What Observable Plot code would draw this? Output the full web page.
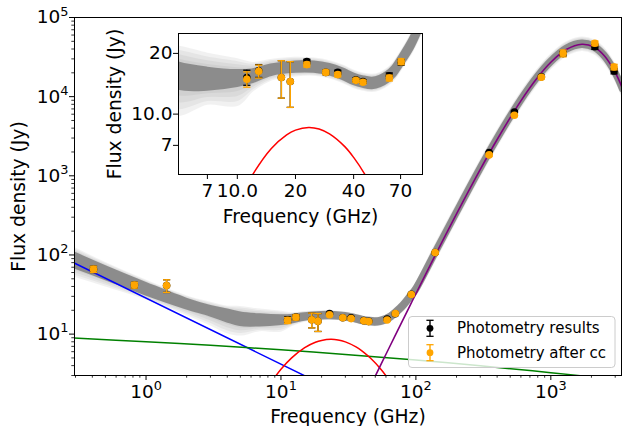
<!DOCTYPE html>
<html><head><meta charset="utf-8">
<script src="https://cdn.jsdelivr.net/npm/d3@7"></script>
<script src="https://cdn.jsdelivr.net/npm/@observablehq/plot@0.6"></script>
<style>
html,body{margin:0;padding:0;background:white;}
#wrap{position:relative;width:622px;height:426px;font-family:"DejaVu Sans";}
#wrap svg{display:block;}
</style></head><body><div id="wrap"></div>
<script>
// ---------- data ----------
// photometry
const freqs   = [0.408, 0.82, 1.42, 11.2, 12.9, 16.9, 18.8, 22.9, 28.7, 33.1, 41.1, 44.7, 61.2, 70.5, 92.5, 139, 349, 537, 851, 1233, 2120, 2944];
const fluxRaw = [66, 41.6, 41.1, 15.2, 16.4, 15.2, 14.5, 18.2, 16.1, 16.1, 14.8, 14.5, 15.5, 18.1, 31.8, 107, 1963, 6410, 17800, 35000, 42800, 21100];
const errRaw  = [6, 3.5, 7.5, 1.3, 1.2, 3.2, 3.7, 0.5, 0.4, 0.4, 0.3, 0.3, 0.5, 0.6, 1.0, 3, 60, 200, 700, 2500, 3200, 1700];
const fluxCC  = [66, 41.6, 41.1, 14.9, 16.3, 15.2, 14.5, 17.6, 16.1, 15.7, 14.7, 14.4, 15.1, 18.2, 31.6, 107, 1836, 5820, 17580, 35300, 47200, 23700];
const errCC   = [6, 3.5, 7.5, 1.3, 1.2, 3.2, 3.7, 0.5, 0.4, 0.4, 0.3, 0.3, 0.5, 0.6, 1.0, 3, 60, 200, 700, 3500, 3200, 1900];

// model components
const syncFreq = [0.29, 20];
const syncFlux = [80.0, 2.34];
const ffFreq = [0.29, 1, 3, 10, 30, 100, 300, 1000, 3400];
const ffFlux = [8.92, 8.01, 7.21, 6.33, 5.54, 4.71, 3.98, 3.26, 2.63];
const ameFreq = [8.5, 10, 12, 15, 18, 20, 23.4, 26.5, 30, 36, 40, 46, 55, 65];
const ameFlux = [2.49, 3.60, 5.01, 6.76, 7.90, 8.33, 8.59, 8.44, 7.98, 6.90, 6.10, 4.98, 3.60, 2.47];
const dustFreq = [45, 50, 60, 70, 94, 139, 200, 300, 400, 600, 800, 1000, 1300, 1700, 2100, 2500, 3000, 3400];
const dustFlux = [2.05, 2.95, 5.57, 9.49, 26.2, 98.8, 330, 1205, 2877, 8850, 17580, 27200, 39350, 45900, 42100, 32700, 20300, 12650];

// bundle of model samples (centre and spread in dex)
const bandFreq = [0.29, 0.5, 1, 2, 3, 4, 5, 7, 10, 12, 15, 20, 25, 30, 35, 40, 45, 50, 55, 60, 65, 70, 80, 90, 100, 139, 200, 300, 400, 600, 800, 1000, 1300, 1700, 2100, 2500, 3000, 3400];
const bandMid  = [86, 59, 37, 24, 19.5, 17, 15.4, 14.9, 15.0, 15.4, 16.5, 17.1, 17.1, 16.6, 15.8, 14.9, 14.4, 14.2, 14.5, 15.2, 16.3, 18.1, 22.3, 28.5, 36, 104, 335, 1210, 2880, 8850, 17580, 27200, 39350, 45900, 42100, 32700, 20300, 12650];
const bandInner = [0.067, 0.055, 0.047, 0.035, 0.035, 0.05, 0.055, 0.045, 0.03, 0.022, 0.016, 0.016, 0.016, 0.016, 0.016, 0.016, 0.016, 0.016, 0.016, 0.016, 0.016, 0.016, 0.018, 0.018, 0.018, 0.015, 0.015, 0.015, 0.015, 0.015, 0.015, 0.015, 0.015, 0.015, 0.015, 0.015, 0.015, 0.015];
const bandLow  = [0.19, 0.15, 0.11, 0.12, 0.16, 0.20, 0.19, 0.12, 0.13, 0.07, 0.045, 0.04, 0.036, 0.036, 0.036, 0.036, 0.036, 0.036, 0.036, 0.036, 0.036, 0.036, 0.04, 0.045, 0.05, 0.07, 0.07, 0.07, 0.07, 0.07, 0.07, 0.07, 0.07, 0.07, 0.07, 0.07, 0.07, 0.07];
const bandHigh = [0.14, 0.11, 0.09, 0.08, 0.09, 0.10, 0.14, 0.12, 0.09, 0.06, 0.045, 0.04, 0.036, 0.036, 0.036, 0.036, 0.036, 0.036, 0.036, 0.036, 0.036, 0.036, 0.04, 0.045, 0.05, 0.07, 0.07, 0.07, 0.07, 0.07, 0.07, 0.07, 0.07, 0.07, 0.07, 0.07, 0.07, 0.07];

// axis ticks
const mainXTicks = [1, 10, 100, 1000];
const mainYTicks = [10, 100, 1000, 10000, 100000];
const mainXMinor = [0.3,0.4,0.5,0.6,0.7,0.8,0.9,2,3,4,5,6,7,8,9,20,30,40,50,60,70,80,90,200,300,400,500,600,700,800,900,2000,3000];
const mainYMinor = [3,4,5,6,7,8,9,20,30,40,50,60,70,80,90,200,300,400,500,600,700,800,900,2000,3000,4000,5000,6000,7000,8000,9000,20000,30000,40000,50000,60000,70000,80000,90000];
const insetXTicks = [7, 10, 20, 40, 70];
const insetXLabels = ["7", "10.0", "20", "40", "70"];
const insetYTicks = [7, 10, 20];
const insetYLabels = ["7", "10.0", "20"];
const xLabel = "Frequency (GHz)";
const yLabel = "Flux density (Jy)";
const legendLabels = ["Photometry results", "Photometry after cc"];

// ---------- tables ----------
const raw = freqs.map((f, i) => ({f, s: fluxRaw[i], lo: fluxRaw[i] - errRaw[i], hi: fluxRaw[i] + errRaw[i]}));
const cc  = freqs.map((f, i) => ({f, s: fluxCC[i], lo: fluxCC[i] - errCC[i], hi: fluxCC[i] + errCC[i]}));
const sync = syncFreq.map((f, i) => ({f, s: syncFlux[i]}));
const ff = ffFreq.map((f, i) => ({f, s: ffFlux[i]}));
const ame = ameFreq.map((f, i) => ({f, s: ameFlux[i]}));
const dust = dustFreq.map((f, i) => ({f, s: dustFlux[i]}));
const LAYERS = [1, 0.75, 0.5, 0.25];
const band = bandFreq.map((f, i) => {
  const m = bandMid[i], a = bandInner[i], l = bandLow[i], h = bandHigh[i];
  const row = {f, lo0: m / 10 ** a, hi0: m * 10 ** a};
  LAYERS.forEach((k, j) => {
    row["lo" + (j + 1)] = m / 10 ** (a + (l - a) * k);
    row["hi" + (j + 1)] = m * 10 ** (a + (h - a) * k);
  });
  return row;
});

const cap = {draw(ctx) { ctx.moveTo(-3.6, 0); ctx.lineTo(3.6, 0); }};
const FONT = "DejaVu Sans";

function bandMarks(sw) {
  const outer = LAYERS.map((k, j) =>
    Plot.areaY(band, {x: "f", y1: "lo" + (j + 1), y2: "hi" + (j + 1), fill: "#808080", stroke: "#808080", strokeWidth: sw * 0.6, strokeLinejoin: "round", opacity: 0.1, curve: "catmull-rom", clip: true}));
  return [
    ...outer,
    Plot.areaY(band, {x: "f", y1: "lo0", y2: "hi0", fill: "#7a7a7a", stroke: "#7a7a7a", strokeWidth: sw, strokeLinejoin: "round", opacity: 0.78, curve: "catmull-rom", clip: true})
  ];
}
function dataMarks() {
  return [
    Plot.ruleX(raw, {x: "f", y1: "lo", y2: "hi", stroke: "black", strokeWidth: 1.4, clip: true}),
    Plot.dot(raw, {x: "f", y: "lo", symbol: cap, fill: "none", stroke: "black", strokeWidth: 1.3, clip: true}),
    Plot.dot(raw, {x: "f", y: "hi", symbol: cap, fill: "none", stroke: "black", strokeWidth: 1.3, clip: true}),
    Plot.dot(raw, {x: "f", y: "s", r: 3.8, fill: "black", stroke: "none", clip: true}),
    Plot.ruleX(cc, {x: "f", y1: "lo", y2: "hi", stroke: "orange", strokeWidth: 1.4, clip: true}),
    Plot.dot(cc, {x: "f", y: "lo", symbol: cap, fill: "none", stroke: "orange", strokeWidth: 1.3, clip: true}),
    Plot.dot(cc, {x: "f", y: "hi", symbol: cap, fill: "none", stroke: "orange", strokeWidth: 1.3, clip: true}),
    Plot.dot(cc, {x: "f", y: "s", r: 3.8, fill: "orange", stroke: "none", clip: true})
  ];
}
function supify(svg, fs) {
  svg.querySelectorAll("text").forEach(t => {
    const m = /^10\^(\d+)$/.exec(t.textContent);
    if (!m) return;
    t.textContent = "10";
    const s = document.createElementNS("http://www.w3.org/2000/svg", "tspan");
    s.setAttribute("dy", (-0.42 * fs).toFixed(1));
    s.setAttribute("font-size", (0.7 * fs).toFixed(1));
    s.textContent = m[1];
    t.appendChild(s);
  });
}

const TF = 18.5;
const main = Plot.plot({
  width: 622, height: 426,
  marginLeft: 74, marginRight: 1, marginTop: 17, marginBottom: 51,
  style: {fontFamily: FONT, background: "white", color: "black", overflow: "visible"},
  x: {type: "log", domain: [0.295, 3340]},
  y: {type: "log", domain: [3, 1e5]},
  marks: [
    ...bandMarks(6),
    Plot.line(sync, {x: "f", y: "s", stroke: "blue", strokeWidth: 1.5, clip: true}),
    Plot.line(ff, {x: "f", y: "s", stroke: "green", strokeWidth: 1.5, curve: "catmull-rom", clip: true}),
    Plot.line(ame, {x: "f", y: "s", stroke: "red", strokeWidth: 1.5, curve: "catmull-rom", clip: true}),
    Plot.line(dust, {x: "f", y: "s", stroke: "purple", strokeWidth: 1.6, curve: "catmull-rom", clip: true}),
    ...dataMarks(),
    Plot.axisX({ticks: mainXTicks, tickFormat: d => "10^" + Math.round(Math.log10(d)), tickSize: 5, tickPadding: 4, fontSize: TF, label: null}),
    Plot.axisX({ticks: mainXMinor, tickSize: 2.7, strokeWidth: 0.8, fill: "none", label: null}),
    Plot.axisY({ticks: mainYTicks, tickFormat: d => "10^" + Math.round(Math.log10(d)), tickSize: 5, tickPadding: 1, fontSize: TF, label: null}),
    Plot.axisY({ticks: mainYMinor, tickSize: 2.7, strokeWidth: 0.8, fill: "none", label: null}),
    Plot.text([xLabel], {frameAnchor: "bottom", dy: 42, textAnchor: "middle", lineAnchor: "middle", fontSize: 18.7, fill: "black"}),
    Plot.text([yLabel], {frameAnchor: "left", dx: -55, rotate: -90, textAnchor: "middle", lineAnchor: "middle", fontSize: 18.7, fill: "black"}),
    Plot.frame({stroke: "black", strokeWidth: 1})
  ]
});
supify(main, TF);

const inset = Plot.plot({
  width: 622, height: 232,
  marginLeft: 178, marginRight: 200, marginTop: 33, marginBottom: 58,
  style: {fontFamily: FONT, background: "transparent", color: "black", overflow: "visible", position: "absolute", left: "0px", top: "0px"},
  x: {type: "log", domain: [4.96, 90.9]},
  y: {type: "log", domain: [5.02, 25.1]},
  marks: [
    Plot.frame({fill: "white", stroke: "none"}),
    ...bandMarks(6),
    Plot.line(ame, {x: "f", y: "s", stroke: "red", strokeWidth: 1.5, curve: "catmull-rom", clip: true}),
    ...dataMarks(),
    Plot.axisX({ticks: insetXTicks, tickFormat: d => insetXLabels[insetXTicks.indexOf(d)], tickSize: 5, tickPadding: 4, fontSize: TF, label: null}),
    Plot.axisY({ticks: insetYTicks, tickFormat: d => insetYLabels[insetYTicks.indexOf(d)], tickSize: 5, tickPadding: 1, fontSize: TF, label: null}),
    Plot.text([xLabel], {frameAnchor: "bottom", dy: 43, textAnchor: "middle", lineAnchor: "middle", fontSize: 18.7, fill: "black"}),
    Plot.text([yLabel], {frameAnchor: "left", dx: -63, rotate: -90, textAnchor: "middle", lineAnchor: "middle", fontSize: 18.7, fill: "black"}),
    Plot.frame({stroke: "black", strokeWidth: 1})
  ]
});

const wrap = document.getElementById("wrap");
wrap.appendChild(main);
wrap.appendChild(inset);

// legend
const glyph = (y, c) => `<line x1="22" x2="22" y1="${y-8}" y2="${y+8}" stroke="${c}" stroke-width="1.4"/>
<line x1="18.4" x2="25.6" y1="${y-8}" y2="${y-8}" stroke="${c}" stroke-width="1.3"/>
<line x1="18.4" x2="25.6" y1="${y+8}" y2="${y+8}" stroke="${c}" stroke-width="1.3"/>
<circle cx="22" cy="${y}" r="3.4" fill="${c}"/>`;
const lg = document.createElement("div");
lg.style.cssText = "position:absolute;left:408px;top:316px;";
lg.innerHTML = `<svg width="209" height="53" font-family="${FONT}" style="display:block">
<rect x="0.5" y="0.5" width="206.5" height="51" rx="3.5" fill="white" fill-opacity="0.8" stroke="#cccccc"/>
${glyph(12.3, "black")}${glyph(36.7, "orange")}
<text x="49" y="12.3" dominant-baseline="central" font-size="15">${legendLabels[0]}</text>
<text x="49" y="36.7" dominant-baseline="central" font-size="15">${legendLabels[1]}</text>
</svg>`;
wrap.appendChild(lg);
</script></body></html>
